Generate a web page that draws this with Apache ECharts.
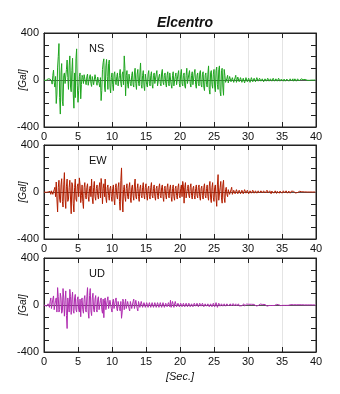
<!DOCTYPE html>
<html><head><meta charset="utf-8">
<script src="https://cdn.jsdelivr.net/npm/echarts@6/dist/echarts.min.js"></script>
<style>html,body{margin:0;padding:0;background:#fff}#c{width:340px;height:394px}</style>
</head><body><div id="c"></div>
<script>
// main samples at t = 0, 0.2, ... 40 ; mid samples at t = 0.1, 0.3, ... 39.9
const timeStep = 0.2;
const xTicks = [0,5,10,15,20,25,30,35,40];
const yTickLabels = [-400, 0, 400];
const panelNames = ['NS','EW','UD'];

const nsValues = [
 0,5,-8,10,-5,
 20,-35,85,-60,-200,
 110,310,-290,140,-220,
 60,-40,170,-80,205,
 -100,185,-240,-150,265,
 -190,30,-160,40,-30,
 55,-40,50,-35,45,
 -55,40,-30,50,-45,
 35,-60,-175,90,180,
 -100,175,-80,170,-110,
 60,-90,70,-40,60,
 -50,90,-60,70,205,
 -135,80,-70,60,-50,
 70,-60,100,-80,90,
 -50,145,-70,80,-90,
 60,-60,80,-50,70,
 -70,60,-40,80,-60,
 50,-50,90,-40,60,
 -60,70,-50,45,-70,
 70,-40,60,-50,80,
 -60,90,-50,60,-70,
 100,-40,80,-60,70,
 -50,90,-70,60,-50,
 80,-60,70,-90,60,
 -60,120,-120,80,-70,
 90,-100,110,-80,120,
 -135,100,-130,40,-30,
 40,-20,35,-30,30,
 -25,40,-30,25,-20,
 30,-35,25,-20,30,
 -25,25,-30,20,-20,
 25,-15,20,-25,15,
 -20,20,-15,15,-20,
 15,-15,20,-10,15,
 -15,10,-20,10,-10,
 15,-10,10,-15,10,
 -10,10,-8,10,-20,
 15,-10,20,-5,10,
 5,-5,5,0,3,
 -3,2,0,2,0,
 0];
const nsMid = [
 3,-4,6,-3,8,
 -10,40,-20,30,-120,
 200,-150,60,-180,40,
 -30,90,20,120,-60,
 80,-120,60,180,-50,
 -90,60,-40,20,45,
 -20,30,-45,25,-30,
 30,-40,45,-20,25,
 -30,20,-90,150,-60,
 120,30,140,-60,20,
 -40,50,-20,30,-50,
 40,-30,50,-40,100,
 40,-40,50,-30,40,
 -40,60,-30,50,-30,
 60,-40,40,-50,50,
 -40,50,-30,40,-40,
 40,-30,50,-50,30,
 -30,60,-20,40,-30,
 40,-30,60,-40,40,
 -50,30,-40,50,-30,
 50,-30,40,-50,40,
 -30,50,-30,40,-40,
 60,-40,40,-30,60,
 -40,50,-60,40,-40,
 50,-80,60,-40,50,
 -60,80,-40,90,-100,
 80,-60,90,-20,15,
 -25,30,-15,20,-20,
 20,-20,25,-15,20,
 -20,15,-25,20,-15,
 15,-20,20,-15,15,
 -15,20,-10,15,-10,
 10,-15,10,-10,15,
 -10,10,-10,15,-10,
 10,-10,15,-10,8,
 -8,8,-10,8,-8,
 6,-6,8,-10,10,
 -10,10,-8,8,-5,
 3,-3,2,-2,1,
 1,-1,1,-1,0];

const ewValues = [
 0,0,-5,0,-10,
 -20,15,-30,40,85,
 -170,100,-90,113,-128,
 165,-140,110,-60,100,
 -185,60,-170,110,-80,
 70,120,-90,60,-140,
 80,-60,70,-80,50,
 110,-100,90,-70,60,
 -60,80,115,-100,70,
 110,-90,60,-70,50,
 -80,60,-110,70,-60,
 80,-155,205,-170,60,
 -80,70,-60,80,-90,
 60,-70,110,-60,70,
 -80,60,-50,80,-60,
 70,-70,50,-60,80,
 -50,60,-70,50,-60,
 70,-50,60,-80,50,
 -60,70,-50,60,-80,
 60,-70,50,-60,70,
 -50,60,90,-95,80,
 -60,60,-50,70,-60,
 50,-60,60,-50,60,
 -70,50,-60,70,-50,
 60,-70,90,-90,80,
 -80,60,-122,148,-80,
 90,-95,100,-90,40,
 -40,35,-30,40,-35,
 30,-25,35,-30,30,
 -30,25,-25,30,-20,
 25,-25,20,-20,25,
 -20,15,-20,20,-15,
 15,-15,20,-15,15,
 -15,10,-15,15,-10,
 10,-12,10,-10,12,
 -10,10,-8,10,-10,
 8,-10,8,-8,10,
 -8,8,-6,6,-5,
 3,-2,2,0,0,
 0,0,0,0,0,
 0];
const ewMid = [
 0,-3,2,-5,5,
 10,-20,20,-40,-60,
 40,-60,60,-80,60,
 -60,50,-80,40,-60,
 80,-100,40,-60,50,
 -40,60,-30,-80,40,
 -30,40,-40,30,-40,
 -50,40,-40,30,-30,
 40,-50,60,30,-40,
 -50,40,-30,30,-40,
 30,-60,40,-30,40,
 -80,100,-60,20,-40,
 30,-40,40,-50,40,
 -30,60,-40,30,-40,
 30,-30,40,-30,40,
 -30,30,-40,40,-30,
 30,-40,30,-30,40,
 -30,40,-40,30,-30,
 40,-30,30,-40,30,
 -40,30,-30,40,-30,
 30,-40,50,40,-50,
 30,-30,40,-30,30,
 -30,30,-30,40,-40,
 30,-30,40,-30,30,
 -40,50,-50,40,-50,
 40,-50,60,-70,40,
 -50,60,-50,20,-20,
 20,-20,20,-20,15,
 -15,20,-15,15,-15,
 15,-15,20,-10,15,
 -15,10,-10,15,-10,
 10,-10,10,-8,10,
 -8,10,-8,8,-8,
 8,-6,8,-8,6,
 -6,6,-6,8,-6,
 6,-5,6,-5,5,
 -5,5,-5,5,-5,
 4,-4,4,-3,2,
 -1,1,-1,0,0,
 0,0,0,0,0];

const udValues = [
 0,5,-10,10,-20,
 60,-40,77,-50,60,
 148,-60,100,-70,140,
 -95,120,-200,50,133,
 -80,110,-70,90,-60,
 70,-60,-100,60,-70,
 80,-60,148,-113,140,
 -90,100,-60,80,-60,
 70,-50,60,-70,-108,
 60,-50,70,-40,50,
 -60,50,-40,60,-50,
 40,-50,-113,50,-40,
 50,-40,40,-50,40,
 -40,50,-30,40,-50,
 40,-30,40,-30,30,
 -30,35,-25,30,-30,
 25,-30,30,-25,30,
 -25,25,-30,30,-20,
 25,-25,30,40,-25,
 45,-25,40,-20,20,
 -20,20,-15,20,-20,
 15,-20,20,-15,15,
 -20,20,-15,15,-20,
 20,-15,15,-20,15,
 -15,20,-15,15,-20,
 25,-20,30,-20,15,
 -15,15,-15,10,-15,
 10,-12,10,-10,12,
 -10,10,-8,10,-10,
 8,-10,10,-8,8,
 -8,8,-6,8,-6,
 6,-8,6,-6,8,
 -6,6,-5,6,-10,
 6,-5,5,-5,5,
 -4,5,-4,4,-5,
 4,-3,4,-3,3,
 10,-3,3,-3,3,
 -2,2,-2,2,-2,
 2,-2,2,-1,1,
 -1,1,0,1,0,
 0];
const udMid = [
 -3,6,-8,15,30,
 -30,50,-40,40,-60,
 70,-40,60,-50,60,
 40,-90,60,-60,70,
 50,-50,60,-40,50,
 -40,50,40,-40,50,
 -40,70,-60,80,-50,
 60,-40,50,-40,50,
 -40,40,-40,50,40,
 -40,40,-30,40,-30,
 30,-30,40,-30,30,
 -30,30,-60,30,-30,
 -30,30,-30,30,-30,
 30,-30,40,-30,30,
 -20,30,-20,20,-20,
 20,-20,20,-20,20,
 -20,20,-20,20,-20,
 20,-20,20,-20,15,
 -15,20,-15,-20,30,
 -20,30,-15,15,-15,
 15,-15,15,-15,15,
 -15,15,-15,10,-15,
 15,-10,15,-15,15,
 -10,15,-15,10,-10,
 10,-15,10,-15,15,
 -15,20,-20,15,-10,
 10,-10,10,-10,10,
 -8,8,-8,8,-8,
 8,-8,6,-8,8,
 -6,8,-8,6,-6,
 6,-6,6,-6,5,
 -5,6,-5,5,-6,
 5,-5,4,-6,6,
 -4,4,-4,4,-4,
 3,-4,3,-3,4,
 -3,3,-3,3,-3,
 -3,3,-2,2,-2,
 2,-2,2,-2,2,
 -1,1,-1,1,-1,
 1,-1,1,0,0];

const seriesList = [[nsValues, nsMid], [ewValues, ewMid], [udValues, udMid]];
const colors = ['#1ea51e', '#b31e00', '#b02cb0'];
const panelTops = [33, 145, 258];
const panelH = 94;
const FONT = 'Liberation Sans, Arial, Helvetica, sans-serif';

function pairs(main, mid){
  const out = [];
  for (let i=0;i<main.length;i++){
    const t = i*timeStep;
    out.push([+t.toFixed(2), main[i]]);
    if (i < mid.length) out.push([+(t + timeStep/2).toFixed(2), mid[i]]);
  }
  return out;
}

const grids=[], xAxes=[], yAxes=[], series=[], graphics=[];
for (let i=0;i<3;i++){
  grids.push({left:44, width:272, top:panelTops[i], height:panelH, show:true, borderColor:'#222', borderWidth:1, backgroundColor:'transparent', containLabel:false, outerBoundsMode:'none'});
  const isLast = i===2;
  xAxes.push({gridIndex:i, type:'value', min:0, max:40, interval:5, position:'bottom',
    axisLine:{show:true, onZero:false, lineStyle:{color:'#222'}},
    axisTick:{show:true, inside:true, length:5, lineStyle:{color:'#222'}},
    axisLabel:{show:true, color:'#111', fontSize:11, fontFamily:FONT, margin:4,
      formatter:v=> xTicks.includes(v)? String(v):''},
    splitLine:{show:true, lineStyle:{color:'#e4e4e4', width:1}},
    name: isLast? '[Sec.]':'', nameLocation:'middle', nameGap:19, nameMoveOverlap:false,
    nameTextStyle:{fontStyle:'italic', fontSize:11, color:'#111', fontFamily:FONT}});
  xAxes.push({gridIndex:i, type:'value', min:0, max:40, interval:5, position:'top',
    axisLine:{show:true, onZero:false, lineStyle:{color:'#222'}},
    axisTick:{show:true, inside:true, length:5, lineStyle:{color:'#222'}},
    axisLabel:{show:false}, splitLine:{show:false}});
  yAxes.push({gridIndex:i, type:'value', min:-400, max:400, interval:100, position:'left',
    axisLine:{show:true, onZero:false, lineStyle:{color:'#222'}},
    axisTick:{show:true, inside:true, length:5, lineStyle:{color:'#222'}},
    axisLabel:{show:true, color:'#111', fontSize:11, fontFamily:FONT, margin:5,
      formatter:v=> yTickLabels.includes(v)? String(v):''},
    splitLine:{show:false},
    name:'[Gal]', nameLocation:'middle', nameGap:16, nameRotate:90, nameMoveOverlap:false,
    nameTextStyle:{fontStyle:'italic', fontSize:10, color:'#111', fontFamily:FONT}});
  yAxes.push({gridIndex:i, type:'value', min:-400, max:400, interval:100, position:'right',
    axisLine:{show:true, onZero:false, lineStyle:{color:'#222'}},
    axisTick:{show:true, inside:true, length:5, lineStyle:{color:'#222'}},
    axisLabel:{show:false}, splitLine:{show:false}});
  series.push({type:'line', xAxisIndex:2*i, yAxisIndex:2*i, data:pairs(seriesList[i][0], seriesList[i][1]),
    showSymbol:false, symbol:'none', animation:false, color:colors[i],
    lineStyle:{width:1, color:colors[i]},
    markLine:{silent:true, symbol:'none', label:{show:false}, z:1,
      lineStyle:{color:'#555', width:1, type:'solid'}, data:[{yAxis:0}]}});
  graphics.push({type:'text', left:89, top:panelTops[i]+10,
    style:{text:panelNames[i], font:'11px '+FONT, fill:'#111'}});
}

const chart = echarts.init(document.getElementById('c'), null, {renderer:'canvas'});
chart.setOption({
  animation:false,
  backgroundColor:'#fff',
  title:{text:'Elcentro', left:180, top:11, textAlign:'center',
    textStyle:{fontSize:14, fontWeight:'bold', fontStyle:'italic', color:'#111', fontFamily:FONT}},
  grid:grids, xAxis:xAxes, yAxis:yAxes, series:series, graphic:graphics
});
</script></body></html>
